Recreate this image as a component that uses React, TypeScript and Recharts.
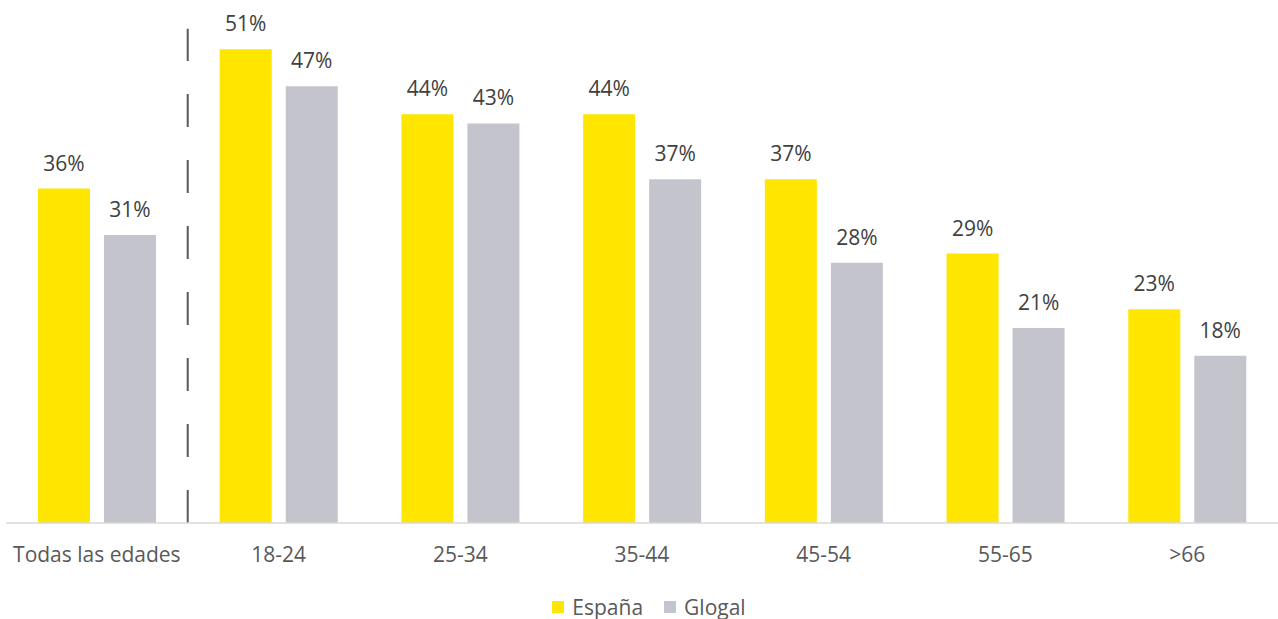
import React from "react";
import { BarChart, Bar, XAxis, YAxis, LabelList, Legend, ReferenceLine } from "recharts";

const categories = ["Todas las edades", "18-24", "25-34", "35-44", "45-54", "55-65", ">66"];
const espana = [36, 51, 44, 44, 37, 29, 23];
const global = [31, 47, 43, 37, 28, 21, 18];
const seriesNames = ["España", "Glogal"];
const colors = ["#FFE600", "#C4C4CD"];
const separatorCategory = "18-24";
const separatorTop = 53.2;

const data = categories.map((c, i) => ({ name: c, espana: espana[i], global: global[i] }));

const FONT = "'Open Sans', sans-serif";

const LegendContent = () => (
  <div style={{ display: "flex", justifyContent: "center", alignItems: "center", height: 30, paddingTop: 6, boxSizing: "border-box", fontFamily: FONT, fontSize: 21, color: "#595959", paddingLeft: 14 }}>
    {seriesNames.map((n, i) => (
      <div key={n} style={{ display: "flex", alignItems: "center", marginRight: i === 0 ? 21 : 0 }}>
        <div style={{ width: 12, height: 12, background: colors[i], marginRight: 8 }} />
        <span>{n}</span>
      </div>
    ))}
  </div>
);

export default function App() {
  return (
    <div style={{ position: "absolute", left: 0, top: 0, width: 1278, height: 619, background: "#fff" }}>
      <BarChart
        width={1278}
        height={619}
        data={data}
        margin={{ top: 12, right: 0, left: 6, bottom: 0 }}
        barCategoryGap={32}
        barGap={14}
      >
        <XAxis
          dataKey="name"
          tickLine={false}
          tickSize={0}
          tickMargin={24}
          height={66}
          axisLine={{ stroke: "#D9D9D9", strokeWidth: 1.5 }}
          tick={{ fill: "#595959", fontSize: 21, fontFamily: FONT }}
          interval={0}
        />
        <YAxis hide domain={[0, 55]} />
        <ReferenceLine
          segment={[{ x: separatorCategory, y: 0 }, { x: separatorCategory, y: separatorTop }]}
          position="start"
          stroke="#595959"
          strokeWidth={2}
          strokeDasharray="33 33"
          ifOverflow="visible"
        />
        <Bar dataKey="espana" name={seriesNames[0]} fill={colors[0]} isAnimationActive={false}>
          <LabelList dataKey="espana" position="top" offset={18} formatter={(v: any) => `${v}%`} style={{ fill: "#404040", fontSize: 21, fontFamily: FONT }} />
        </Bar>
        <Bar dataKey="global" name={seriesNames[1]} fill={colors[1]} isAnimationActive={false}>
          <LabelList dataKey="global" position="top" offset={18} formatter={(v: any) => `${v}%`} style={{ fill: "#404040", fontSize: 21, fontFamily: FONT }} />
        </Bar>
        <Legend verticalAlign="bottom" height={30} content={<LegendContent />} wrapperStyle={{ height: 30 }} />
      </BarChart>
    </div>
  );
}
